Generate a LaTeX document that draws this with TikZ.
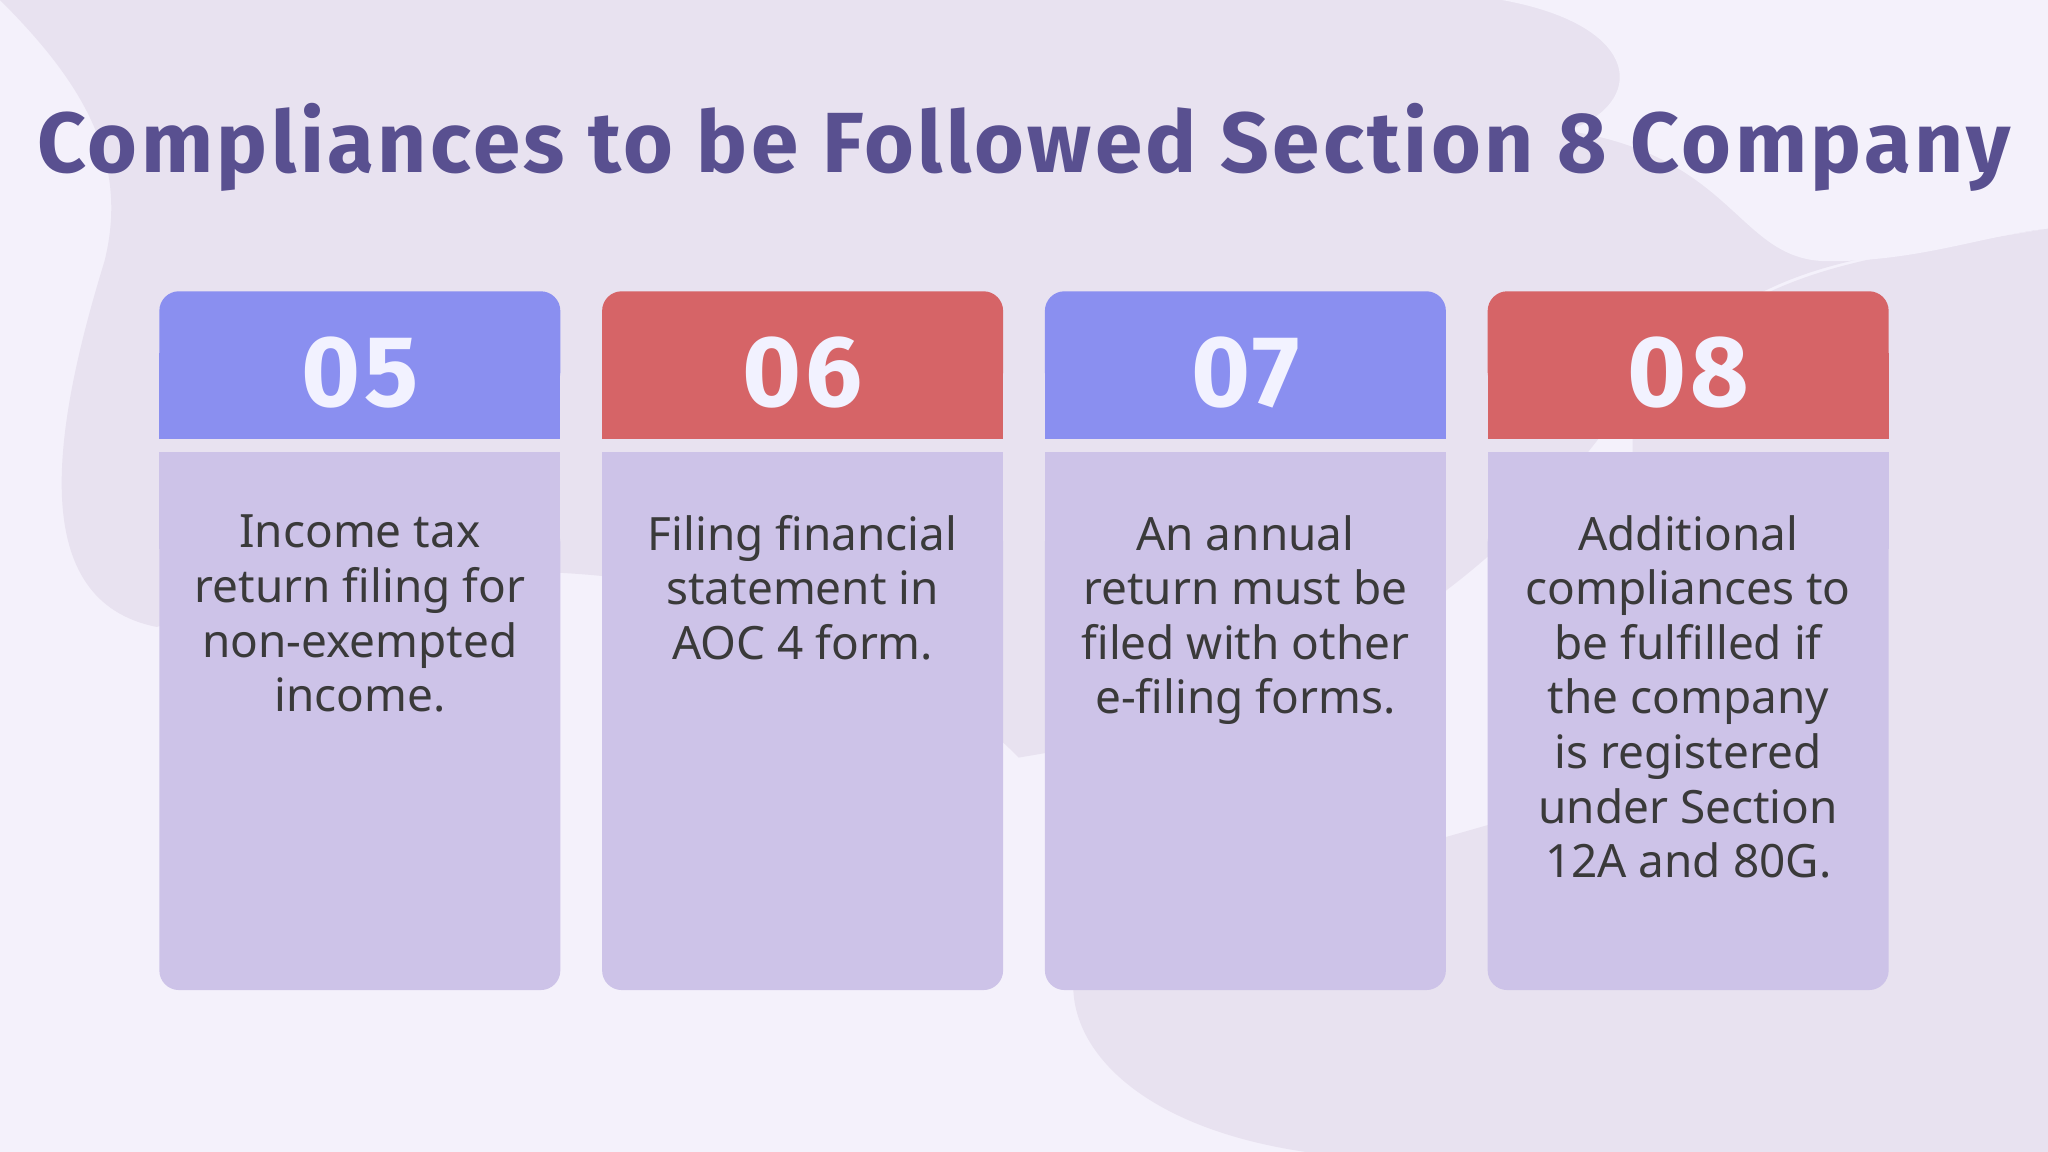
\documentclass[tikz,border=0pt]{standalone}
\usepackage{fontspec}
\setmainfont{Noto Sans}
\newfontfamily\titlefont[LetterSpace=4]{Fira Sans}
\newfontfamily\numfont[LetterSpace=4]{Fira Sans}
\definecolor{bg}{HTML}{F4F1FB}
\definecolor{blob}{HTML}{E8E2F0}
\definecolor{hblue}{HTML}{8A8FF0}
\definecolor{hred}{HTML}{D66467}
\definecolor{cardbody}{HTML}{CDC3E8}
\definecolor{titlec}{HTML}{595090}
\definecolor{txt}{HTML}{3A3A3A}
\newlength\ulen
\setlength\ulen{0.1mm}
\tikzset{
 numtxt/.style={text=white!95!blue,font=\numfont\bfseries\fontsize{22}{22}\selectfont},
 bodytxt/.style={text=txt,align=center,font=\fontsize{10}{11.9}\selectfont,anchor=north}
}
\begin{document}
\begin{tikzpicture}[x=0.1mm,y=-0.1mm]
\useasboundingbox (0,0) rectangle (1568,882);
\fill[bg] (0,0) rectangle (1568,882);
\fill[blob] (0,0) .. controls (60,60) and (100,120) .. (80,200) .. controls (40,330) and (20,460) .. (120,480) .. controls (300,420) and (600,400) .. (780,580) .. controls (900,560) and (1100,520) .. (1250,300) .. controls (1350,200) and (1400,200) .. (1568,175) -- (1568,0) -- cycle;
\fill[blob] (1568,175) -- (1568,882) -- (1000,882) .. controls (850,860) and (800,780) .. (830,720) -- (1250,600) -- (1250,300) .. controls (1350,200) and (1420,200) .. (1568,175);
\fill[bg] (1150,0) .. controls (1260,20) and (1260,80) .. (1200,100) .. controls (1330,120) and (1330,200) .. (1400,200) .. controls (1470,200) and (1520,180) .. (1568,175) -- (1568,0) -- cycle;
\node[text=titlec,font=\titlefont\bfseries\fontsize{18.6}{20}\selectfont] (title) at (784,113) {Compliances to be Followed Section 8 Company};
\foreach \x/\c/\n/\t [count=\i] in {
 122/hblue/05/{Income tax\\return filing for\\non-exempted\\income.},
 461/hred/06/{Filing financial\\statement in\\AOC 4 form.},
 800/hblue/07/{An annual\\return must be\\filed with other\\e-filing forms.},
 1139/hred/08/{Additional\\compliances to\\be fulfilled if\\the company\\is registered\\under Section\\12A and 80G.}}{
 \fill[\c,rounded corners=15\ulen] (\x,223) rectangle (\x+307,300);
 \fill[\c] (\x,270) rectangle (\x+307,336);
 \fill[cardbody,rounded corners=15\ulen] (\x,400) rectangle (\x+307,758);
 \fill[cardbody] (\x,346) rectangle (\x+307,420);
 \node[numtxt] (n\i) at (\x+153.5,285) {\n};
 \node[bodytxt] (b\i) at (\x+153.5,382) {\t};
}
\end{tikzpicture}
\end{document}
